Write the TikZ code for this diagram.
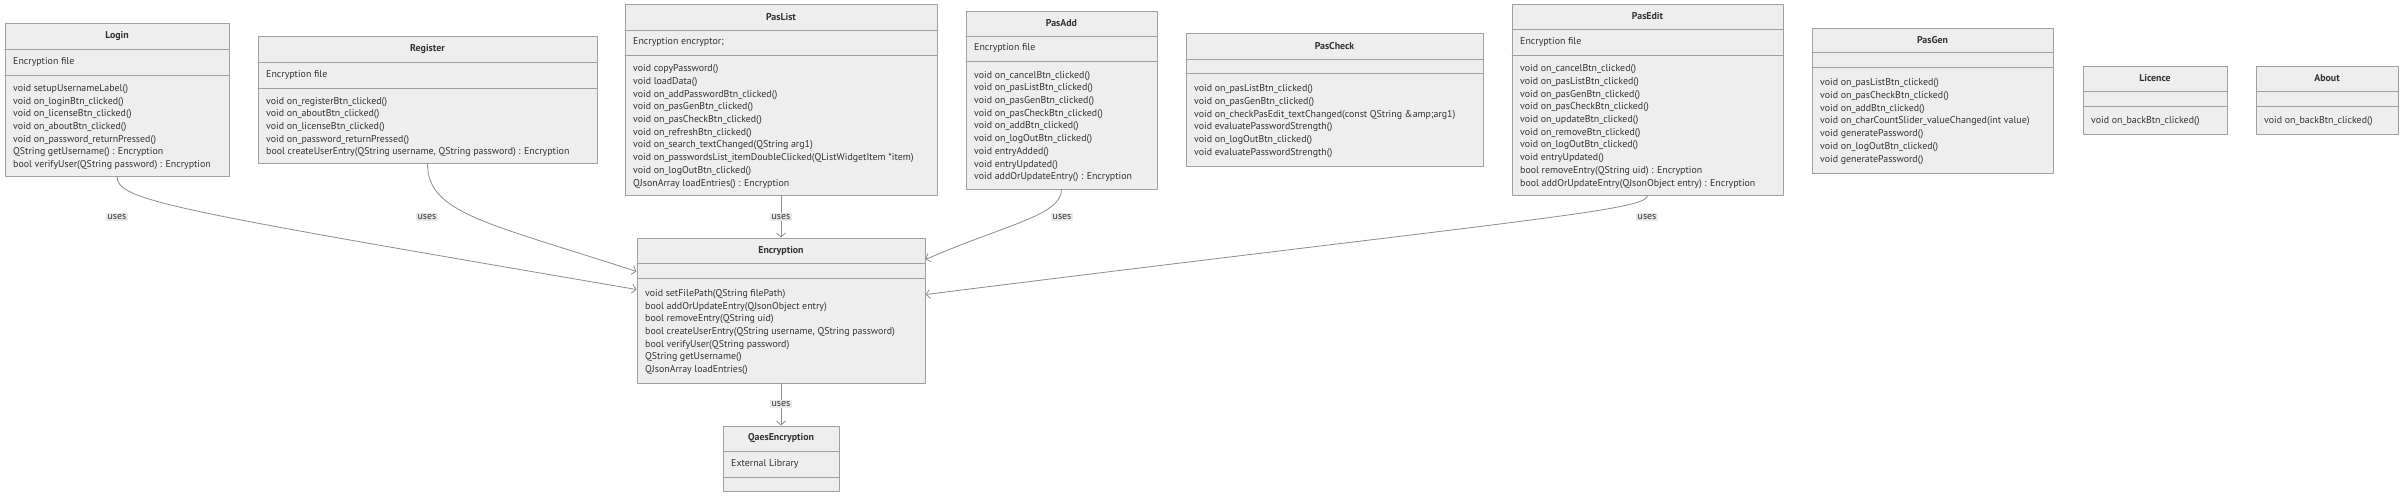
\documentclass[tikz,border=0pt]{standalone}
\usepackage{fontspec}
\setmainfont{PT Sans}
\usetikzlibrary{arrows.meta}
\definecolor{boxfill}{HTML}{EEEEEE}
\definecolor{boxline}{HTML}{A0A0A0}
\definecolor{edgeline}{HTML}{8C8C8C}
\definecolor{labelfill}{HTML}{E8E8E8}
\definecolor{txt}{HTML}{333333}
\tikzset{>=latex}
\tikzset{
  classframe/.style={rectangle, draw=boxline, fill=boxfill, line width=1pt, inner sep=0pt},
  classline/.style={draw=boxline, line width=1pt},
  classtitle/.style={font=\fontsize{9.9}{12.7}\selectfont\bfseries, text=txt, inner sep=0pt},
  classmember/.style={font=\fontsize{9.9}{12.7}\selectfont, text=txt, inner sep=0pt, anchor=west, align=left},
  uselabel/.style={font=\fontsize{9.9}{11}\selectfont, text=txt, fill=labelfill, inner sep=1.5pt},
  dependency/.style={draw=edgeline, line width=0.8pt, -{Straight Barb[length=4pt,width=9pt]}}
}
% geometry: left/top/right/bottom/title line/attribute line
\def\readgeom#1/#2/#3/#4/#5/#6\relax{%
  \def\bxl{#1}\def\bxt{#2}\def\bxr{#3}\def\bxb{#4}\def\bxs{#5}\def\bxm{#6}}
\newcommand{\classbox}[5]{%
  \readgeom#2\relax
  \pgfmathsetmacro\bxw{\bxr-\bxl}
  \pgfmathsetmacro\bxh{\bxb-\bxt}
  \node[classframe, minimum width=\bxw pt, minimum height=\bxh pt] (#1) at ({(\bxl+\bxr)/2},{(\bxt+\bxb)/2}) {};
  \draw[classline] (\bxl,\bxs) -- (\bxr,\bxs);
  \draw[classline] (\bxl,\bxm) -- (\bxr,\bxm);
  \node[classtitle] (#1-title) at ({(\bxl+\bxr)/2},{(\bxt+\bxs)/2}) {#3};
  \node[classmember] (#1-attr) at ({\bxl+8},{(\bxs+\bxm)/2}) {#4};
  \node[classmember] (#1-ops) at ({\bxl+8},{(\bxm+\bxb)/2+1.5}) {#5};
}
\begin{document}
\begin{tikzpicture}[x=1pt,y=-1pt,line cap=round,line join=round]
\useasboundingbox (0,0) rectangle (2400,496);

% screens
\classbox{login}{5/23/229/176/49/75}{Login}{Encryption file}{%
void setupUsernameLabel()\\
void on\_loginBtn\_clicked()\\
void on\_licenseBtn\_clicked()\\
void on\_aboutBtn\_clicked()\\
void on\_password\_returnPressed()\\
QString getUsername() : Encryption\\
bool verifyUser(QString password) : Encryption}

\classbox{register}{258/36/597/163/62/88}{Register}{Encryption file}{%
void on\_registerBtn\_clicked()\\
void on\_aboutBtn\_clicked()\\
void on\_licenseBtn\_clicked()\\
void on\_password\_returnPressed()\\
bool createUserEntry(QString username, QString password) : Encryption}

\classbox{paslist}{625/4/937/195/30/55}{PasList}{Encryption encryptor;}{%
void copyPassword()\\
void loadData()\\
void on\_addPasswordBtn\_clicked()\\
void on\_pasGenBtn\_clicked()\\
void on\_pasCheckBtn\_clicked()\\
void on\_refreshBtn\_clicked()\\
void on\_search\_textChanged(QString arg1)\\
void on\_passwordsList\_itemDoubleClicked(QListWidgetItem *item)\\
void on\_logOutBtn\_clicked()\\
QJsonArray loadEntries() : Encryption}

\classbox{pasadd}{966/11/1157/189/36/61}{PasAdd}{Encryption file}{%
void on\_cancelBtn\_clicked()\\
void on\_pasListBtn\_clicked()\\
void on\_pasGenBtn\_clicked()\\
void on\_pasCheckBtn\_clicked()\\
void on\_addBtn\_clicked()\\
void on\_logOutBtn\_clicked()\\
void entryAdded()\\
void entryUpdated()\\
void addOrUpdateEntry() : Encryption}

\classbox{pascheck}{1186/33/1483/166/59/73}{PasCheck}{}{%
void on\_pasListBtn\_clicked()\\
void on\_pasGenBtn\_clicked()\\
void on\_checkPasEdit\_textChanged(const QString \&amp;arg1)\\
void evaluatePasswordStrength()\\
void on\_logOutBtn\_clicked()\\
void evaluatePasswordStrength()}

\classbox{pasedit}{1512/4/1783/195/29/55}{PasEdit}{Encryption file}{%
void on\_cancelBtn\_clicked()\\
void on\_pasListBtn\_clicked()\\
void on\_pasGenBtn\_clicked()\\
void on\_pasCheckBtn\_clicked()\\
void on\_updateBtn\_clicked()\\
void on\_removeBtn\_clicked()\\
void on\_logOutBtn\_clicked()\\
void entryUpdated()\\
bool removeEntry(QString uid) : Encryption\\
bool addOrUpdateEntry(QJsonObject entry) : Encryption}

\classbox{pasgen}{1812/28/2053/173/52/67}{PasGen}{}{%
void on\_pasListBtn\_clicked()\\
void on\_pasCheckBtn\_clicked()\\
void on\_addBtn\_clicked()\\
void on\_charCountSlider\_valueChanged(int value)\\
void generatePassword()\\
void on\_logOutBtn\_clicked()\\
void generatePassword()}

\classbox{licence}{2083/66/2227/134/91/106}{Licence}{}{void on\_backBtn\_clicked()}
\classbox{about}{2256/66/2398/134/91/106}{About}{}{void on\_backBtn\_clicked()}

% backend
\classbox{enc}{637/238/925/383/263/278}{Encryption}{}{%
void setFilePath(QString filePath)\\
bool addOrUpdateEntry(QJsonObject entry)\\
bool removeEntry(QString uid)\\
bool createUserEntry(QString username, QString password)\\
bool verifyUser(QString password)\\
QString getUsername()\\
QJsonArray loadEntries()}

\classbox{qaes}{723/426/839/491/451/477}{QaesEncryption}{External Library}{}

% dependencies
\draw[dependency] (login.south) .. controls +(0,24) and +(-467,-80) .. ([yshift=-52pt]enc.north west);
\draw[dependency] (register.south) .. controls +(0,50) and +(-150,-49) .. ([yshift=-34pt]enc.north west);
\draw[dependency] (paslist.south) -- (enc.north);
\draw[dependency] (pasadd.south) .. controls +(0,26) and +(80,-35) .. ([yshift=-22pt]enc.north east);
\draw[dependency] (pasedit.south) .. controls +(0,15) and +(600,-75) .. ([yshift=-57pt]enc.north east);
\draw[dependency] (enc.south) -- (qaes.north);

\node[uselabel] (uses-login) at (117,217) {uses};
\node[uselabel] (uses-register) at (427,217) {uses};
\node[uselabel] (uses-paslist) at (781,217) {uses};
\node[uselabel] (uses-pasadd) at (1062,217) {uses};
\node[uselabel] (uses-pasedit) at (1647,217) {uses};
\node[uselabel] (uses-enc) at (781,404) {uses};
\end{tikzpicture}
\end{document}
